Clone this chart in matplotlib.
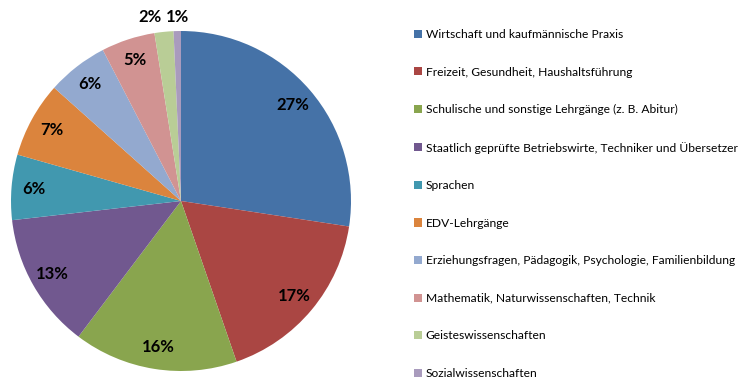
import numpy as np
import matplotlib.pyplot as plt

plt.rcParams['font.family'] = ['Lato', 'DejaVu Sans']

# Anteile je Themenbereich (in %)
kategorien = [
    'Wirtschaft und kaufmännische Praxis',
    'Freizeit, Gesundheit, Haushaltsführung',
    'Schulische und sonstige Lehrgänge (z. B. Abitur)',
    'Staatlich geprüfte Betriebswirte, Techniker und Übersetzer',
    'Sprachen',
    'EDV-Lehrgänge',
    'Erziehungsfragen, Pädagogik, Psychologie, Familienbildung',
    'Mathematik, Naturwissenschaften, Technik',
    'Geisteswissenschaften',
    'Sozialwissenschaften',
]
anteile = [27.4, 17.3, 15.6, 12.9, 6.2, 7.2, 5.8, 5.1, 1.8, 0.7]
farben = ['#4572A7', '#AA4643', '#89A54E', '#71588F', '#4198AF',
          '#DB843D', '#93A9CF', '#D19392', '#B9CD96', '#A99BBD']

fig = plt.figure(figsize=(7.42, 3.88), dpi=100)
ax = fig.add_axes([11 / 742, 17 / 388, 340 / 742, 340 / 388])

wedges, texts, autotexts = ax.pie(
    anteile, colors=farben, startangle=90, counterclock=False,
    autopct=lambda p: '%d%%' % round(p), pctdistance=0.87,
    wedgeprops=dict(linewidth=0),
    textprops=dict(fontsize=12, fontweight='bold', color='black'))

# kleine Segmente: Beschriftung außerhalb
autotexts[8].set_position((-0.18, 1.08))
autotexts[9].set_position((-0.02, 1.08))

ax.set_xlim(-1, 1)
ax.set_ylim(-1, 1)
ax.set_aspect('equal')
ax.axis('off')

leg = fig.legend(wedges, kategorien, loc='upper left',
                 bbox_to_anchor=(414 / 742, 1 - 29 / 388),
                 frameon=False, fontsize=8.65,
                 handlelength=0.66, handleheight=0.66, handletextpad=0.3,
                 labelspacing=2.21, borderpad=0, borderaxespad=0)

fig.savefig('out.png', dpi=100)
